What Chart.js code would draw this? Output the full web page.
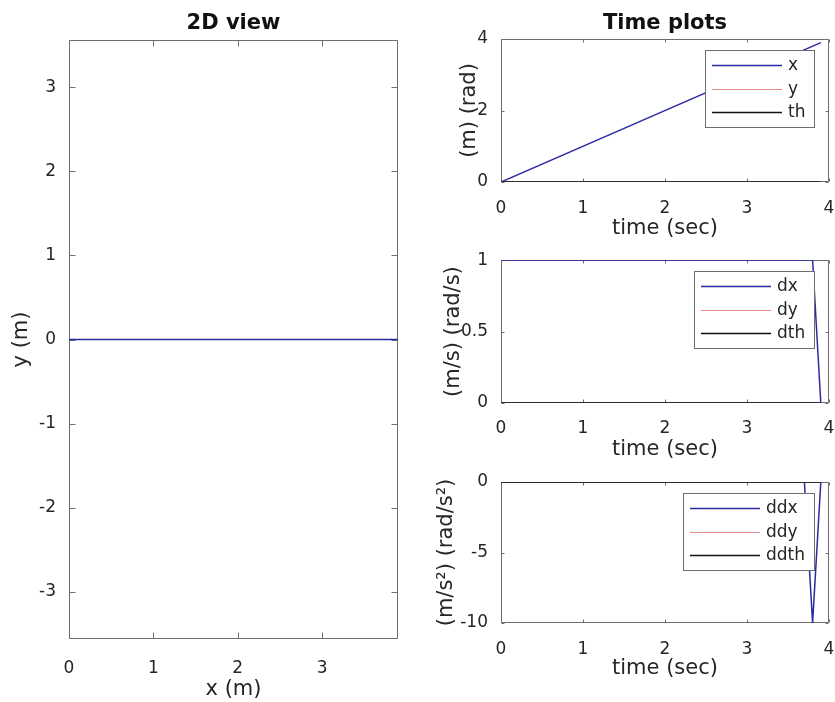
<!DOCTYPE html>
<html>
<head>
<meta charset="utf-8">
<script src="https://cdn.jsdelivr.net/npm/chart.js@4.4.0/dist/chart.umd.min.js"></script>
<style>
  body { margin: 0; background: #fff; overflow: hidden; }
  canvas { position: absolute; }
</style>
</head>
<body>
<canvas id="view2d" width="420" height="702" style="left:0px;top:0px"></canvas>
<canvas id="posPlot" width="430" height="245" style="left:420px;top:0px"></canvas>
<canvas id="velPlot" width="430" height="220" style="left:420px;top:245px"></canvas>
<canvas id="accPlot" width="430" height="237" style="left:420px;top:465px"></canvas>
<script>
// 2D path
const pathX = [0, 3.9];
const pathY = [0, 0];
// positions
const tPos = [0, 3.9];
const xPos = [0, 3.9];
const yPos = [0, 0];
const thPos = [0, 0];
// velocities
const tVel = [0, 3.8, 3.9];
const dxVel = [1, 1, 0];
const dyVel = [0, 0, 0];
const dthVel = [0, 0, 0];
// accelerations
const tAcc = [0, 3.7, 3.8, 3.9];
const ddxAcc = [0, 0, -10, 0];
const ddyAcc = [0, 0, 0, 0];
const ddthAcc = [0, 0, 0, 0];
// tick labels
const viewXTicks = [0, 1, 2, 3];
const viewYTicks = [-3, -2, -1, 0, 1, 2, 3];
const timeTicks = [0, 1, 2, 3, 4];
const posTicks = [0, 2, 4];
const velTicks = [0, 0.5, 1];
const accTicks = [-10, -5, 0];

const FONT = "'DejaVu Sans', sans-serif";
const TEXT = "#262626";
const AXIS = "#6e6e6e";
const BLUE = "#2a2aa3";
const RED = "#e38a8a";
const BLACK = "#111111";

const points = (xs, ys) => xs.map((x, i) => ({ x: x, y: ys[i] }));

const series = (label, xs, ys, color, width, order) => ({
  label: label,
  data: points(xs, ys),
  borderColor: color,
  backgroundColor: color,
  borderWidth: width,
  pointRadius: 0,
  tension: 0,
  fill: false,
  order: order,
});

// matlab style box, inward ticks and legend
const matlabAxes = {
  id: "matlabAxes",
  beforeDatasetsDraw(chart, args, opts) {
    const { ctx, chartArea: a, scales } = chart;
    const len = opts.tickLength || 4;
    const L = Math.round(a.left) + 0.5, R = Math.round(a.right) - 0.5;
    const T = Math.round(a.top) + 0.5, B = Math.round(a.bottom) - 0.5;
    ctx.save();
    ctx.strokeStyle = AXIS;
    ctx.lineWidth = 1;
    ctx.beginPath();
    ctx.rect(L, T, R - L, B - T);
    scales.x.ticks.forEach((tk) => {
      const px = Math.round(scales.x.getPixelForValue(tk.value)) + 0.5;
      ctx.moveTo(px, B); ctx.lineTo(px, B - len);
      ctx.moveTo(px, T); ctx.lineTo(px, T + len);
    });
    scales.y.ticks.forEach((tk) => {
      const py = Math.round(scales.y.getPixelForValue(tk.value)) + 0.5;
      ctx.moveTo(L, py); ctx.lineTo(L + len, py);
      ctx.moveTo(R, py); ctx.lineTo(R - len, py);
    });
    ctx.stroke();
    ctx.restore();
  },
  afterDatasetsDraw(chart, args, opts) {
    if (!opts.legend) return;
    const { ctx, chartArea: a } = chart;
    const sets = chart.data.datasets;
    ctx.save();
    ctx.font = "17px " + FONT;
    const textW = Math.max(...sets.map((d) => ctx.measureText(d.label).width));
    const right = Math.round(a.right) - 15;
    const left = Math.round(right - (7 + 70 + 6 + textW + 9));
    const top = Math.round(a.top) + 11;
    const h = 77;
    ctx.fillStyle = "#fff";
    ctx.fillRect(left, top, right - left, h);
    ctx.strokeStyle = AXIS;
    ctx.lineWidth = 1;
    ctx.strokeRect(left + 0.5, top + 0.5, right - left, h);
    sets.forEach((d, i) => {
      const y = Math.round(top + 15 + 23.5 * i) + 0.5;
      ctx.strokeStyle = d.borderColor;
      ctx.lineWidth = d.borderWidth;
      ctx.beginPath();
      ctx.moveTo(left + 7, y);
      ctx.lineTo(left + 77, y);
      ctx.stroke();
      ctx.fillStyle = TEXT;
      ctx.textBaseline = "middle";
      ctx.textAlign = "left";
      ctx.fillText(d.label, left + 83, y);
    });
    ctx.restore();
  },
};

const axisX = (min, max, ticks, title, height, tickPad, titlePad) => ({
  type: "linear",
  min: min,
  max: max,
  afterBuildTicks: (s) => { s.ticks = ticks.map((v) => ({ value: v })); },
  afterFit: (s) => { s.height = height; },
  grid: { display: false },
  border: { display: false },
  ticks: {
    font: { family: FONT, size: 17 }, color: TEXT, padding: tickPad,
    maxRotation: 0, autoSkip: false, callback: (v) => String(v),
  },
  title: { display: true, text: title, font: { family: FONT, size: 21 }, color: TEXT, padding: { top: 0, bottom: titlePad } },
});

const axisY = (min, max, ticks, title, width, titlePad) => ({
  type: "linear",
  min: min,
  max: max,
  afterBuildTicks: (s) => { s.ticks = ticks.map((v) => ({ value: v })); },
  afterFit: (s) => { s.width = width; },
  grid: { display: false },
  border: { display: false },
  ticks: { font: { family: FONT, size: 17 }, color: TEXT, padding: 5, autoSkip: false, callback: (v) => String(v) },
  title: { display: true, text: title, font: { family: FONT, size: 21 }, color: TEXT, padding: { top: titlePad, bottom: 0 } },
});

const makeChart = (id, datasets, scales, padding, title, opts) =>
  new Chart(document.getElementById(id), {
    type: "line",
    data: { datasets: datasets },
    options: {
      responsive: false,
      animation: false,
      layout: { padding: padding },
      scales: scales,
      plugins: {
        legend: { display: false },
        tooltip: { enabled: false },
        title: title
          ? {
              display: true,
              text: title.text,
              fullSize: false,
              color: "#111",
              font: { family: FONT, size: 21, weight: "bold" },
              padding: title.padding,
            }
          : { display: false },
        matlabAxes: opts,
      },
    },
    plugins: [matlabAxes],
  });

makeChart(
  "view2d",
  [series("path", pathX, pathY, BLUE, 1.5, 0)],
  {
    x: axisX(0, 3.9, viewXTicks, "x (m)", 63, 11, 0),
    y: axisY(-3.565, 3.565, viewYTicks, "y (m)", 69, 9),
  },
  { top: 0, left: 0, right: 22, bottom: 0 },
  { text: "2D view", padding: { top: 11, bottom: 3.8 } },
  { tickLength: 6, legend: false }
);

makeChart(
  "posPlot",
  [
    series("x", tPos, xPos, BLUE, 1.5, 2),
    series("y", tPos, yPos, RED, 1.2, 1),
    series("th", tPos, thPos, BLACK, 1.5, 0),
  ],
  {
    x: axisX(0, 4, timeTicks, "time (sec)", 63, 8, 4),
    y: axisY(0, 4, posTicks, "(m) (rad)", 81, 37),
  },
  { top: 0, left: 0, right: 21, bottom: 0 },
  { text: "Time plots", padding: { top: 10.5, bottom: 3.3 } },
  { tickLength: 3, legend: true }
);

makeChart(
  "velPlot",
  [
    series("dx", tVel, dxVel, BLUE, 1.5, 2),
    series("dy", tVel, dyVel, RED, 1.2, 1),
    series("dth", tVel, dthVel, BLACK, 1.5, 0),
  ],
  {
    x: axisX(0, 4, timeTicks, "time (sec)", 62, 7, 3),
    y: axisY(0, 1, velTicks, "(m/s) (rad/s)", 81, 21),
  },
  { top: 15, left: 0, right: 21, bottom: 0 },
  null,
  { tickLength: 3, legend: true }
);

makeChart(
  "accPlot",
  [
    series("ddx", tAcc, ddxAcc, BLUE, 1.5, 2),
    series("ddy", tAcc, ddyAcc, RED, 1.2, 1),
    series("ddth", tAcc, ddthAcc, BLACK, 1.5, 0),
  ],
  {
    x: axisX(0, 4, timeTicks, "time (sec)", 79, 8, 21),
    y: axisY(-10, 0, accTicks, "(m/s\u00b2) (rad/s\u00b2)", 81, 14),
  },
  { top: 17, left: 0, right: 21, bottom: 0 },
  null,
  { tickLength: 3, legend: true }
);
</script>
</body>
</html>
